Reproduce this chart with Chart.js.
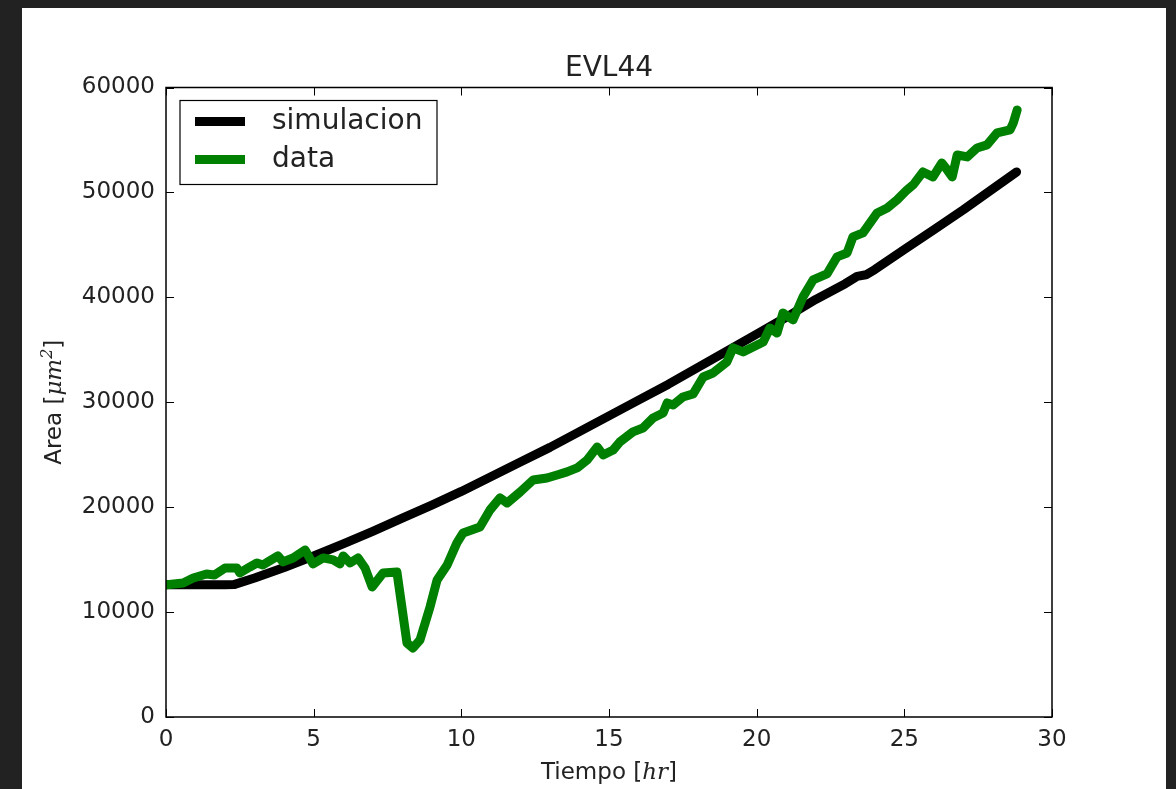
<!DOCTYPE html>
<html><head><meta charset="utf-8">
<script src="https://cdn.jsdelivr.net/npm/chart.js@4.4.0/dist/chart.umd.min.js"></script>
<style>
html,body{margin:0;padding:0;background:#222;width:1176px;height:789px;overflow:hidden}
#wrap{position:absolute;left:22px;top:8px;width:1144px;height:781px;background:#fff}
</style></head><body>
<div id="wrap"><canvas id="c"></canvas></div>
<script>
const chartTitle = 'EVL44';
const seriesNames = ['simulacion', 'data'];
const seriesColors = ['#000000', '#008000'];
const xTicks = [0, 5, 10, 15, 20, 25, 30];
const yTicks = [0, 10000, 20000, 30000, 40000, 50000, 60000];

const simHours = [0, 1, 2, 2.3, 3, 4, 5, 6, 7, 8, 9, 10, 11, 12, 13, 14, 15, 16, 17, 18, 19, 20, 21, 22, 23, 23.4, 23.7, 24, 25, 26, 27, 28, 28.8];
const simArea  = [12600, 12600, 12600, 12620, 13250, 14250, 15350, 16500, 17700, 18950, 20200, 21500, 22900, 24300, 25700, 27200, 28700, 30200, 31700, 33300, 34900, 36500, 38100, 39800, 41300, 42000, 42150, 42650, 44550, 46450, 48350, 50350, 51950];

const dataHours = [0.03, 0.58, 0.92, 1.37, 1.64, 2.0, 2.4, 2.5, 2.84, 3.08, 3.28, 3.45, 3.79, 3.96, 4.3, 4.71, 4.98, 5.32, 5.66, 5.89, 6.0, 6.23, 6.5, 6.74, 6.98, 7.35, 7.82, 8.16, 8.36, 8.6, 8.94, 9.18, 9.52, 9.85, 10.06, 10.63, 10.97, 11.31, 11.55, 11.99, 12.43, 12.9, 13.24, 13.58, 13.92, 14.26, 14.6, 14.8, 15.14, 15.37, 15.81, 16.15, 16.49, 16.83, 16.97, 17.17, 17.5, 17.85, 18.19, 18.52, 18.99, 19.2, 19.54, 19.88, 20.22, 20.45, 20.69, 20.89, 21.23, 21.57, 21.91, 22.38, 22.72, 23.06, 23.26, 23.6, 24.08, 24.42, 24.75, 25.09, 25.3, 25.63, 25.97, 26.27, 26.45, 26.62, 26.79, 27.13, 27.46, 27.8, 28.14, 28.58, 28.69, 28.82];
const dataArea  = [12600, 12770, 13250, 13630, 13540, 14200, 14200, 13730, 14300, 14680, 14490, 14780, 15350, 14780, 15160, 15920, 14590, 15160, 14970, 14590, 15350, 14680, 15160, 14200, 12390, 13730, 13820, 7050, 6580, 7340, 10490, 13060, 14490, 16590, 17540, 18110, 19730, 20880, 20400, 21450, 22590, 22780, 23070, 23360, 23740, 24500, 25740, 24980, 25450, 26220, 27170, 27550, 28500, 28980, 29930, 29740, 30500, 30800, 32410, 32790, 33840, 35180, 34800, 35270, 35750, 37080, 36600, 38510, 37850, 40040, 41660, 42230, 43850, 44230, 45760, 46140, 48040, 48520, 49280, 50240, 50720, 51950, 51480, 52810, 52150, 51480, 53570, 53380, 54240, 54530, 55670, 55960, 56630, 57860];

const FONT = 'DejaVu Sans';

const simPoints = simHours.map((h, i) => ({x: h, y: simArea[i]}));
const dataPoints = dataHours.map((h, i) => ({x: h, y: dataArea[i]}));

const decorPlugin = {
  id: 'decor',
  afterDatasetsDraw(chart) {
    const {ctx, chartArea: a, scales: {x, y}} = chart;
    ctx.save();
    ctx.strokeStyle = '#000';
    ctx.lineWidth = 1;
    xTicks.forEach(v => {
      const px = Math.round(x.getPixelForValue(v)) + 0.5;
      ctx.beginPath();
      ctx.moveTo(px, a.bottom); ctx.lineTo(px, a.bottom - 8);
      ctx.moveTo(px, a.top); ctx.lineTo(px, a.top + 8);
      ctx.stroke();
    });
    yTicks.forEach(v => {
      const py = Math.round(y.getPixelForValue(v)) + 0.5;
      ctx.beginPath();
      ctx.moveTo(a.left, py); ctx.lineTo(a.left + 8, py);
      ctx.moveTo(a.right, py); ctx.lineTo(a.right - 8, py);
      ctx.stroke();
    });
    ctx.lineWidth = 1.5;
    ctx.strokeRect(a.left, a.top, a.right - a.left, a.bottom - a.top);

    // legend
    const lx = a.left + 14, ly = a.top + 13, lw = 257, lh = 84;
    ctx.fillStyle = '#fff';
    ctx.fillRect(lx, ly, lw, lh);
    ctx.lineWidth = 1.2;
    ctx.strokeStyle = '#000';
    ctx.strokeRect(lx, ly, lw, lh);
    chart.data.datasets.forEach((ds, i) => {
      const cy = ly + 21 + i * 38;
      ctx.strokeStyle = ds.borderColor;
      ctx.lineWidth = 9;
      ctx.lineCap = 'butt';
      ctx.beginPath();
      ctx.moveTo(lx + 15, cy); ctx.lineTo(lx + 65, cy);
      ctx.stroke();
      ctx.fillStyle = '#222';
      ctx.font = '28px "' + FONT + '"';
      ctx.textBaseline = 'middle';
      ctx.textAlign = 'left';
      ctx.fillText(ds.label, lx + 92, cy);
    });
    ctx.restore();
  },
  afterDraw(chart) {
    const {ctx, chartArea: a} = chart;
    ctx.save();
    ctx.fillStyle = '#222';
    ctx.font = '28px "' + FONT + '"';
    ctx.textAlign = 'center';
    ctx.textBaseline = 'middle';
    ctx.fillText(chartTitle, (a.left + a.right) / 2, a.top - 19);

    function drawSegs(segs, cx, cy) {
      let w = 0;
      segs.forEach(s => { ctx.font = s.f; s.w = ctx.measureText(s.t).width; w += s.w; });
      let xx = cx - w / 2;
      ctx.textAlign = 'left';
      segs.forEach(s => {
        ctx.font = s.f;
        ctx.textBaseline = 'alphabetic';
        ctx.fillText(s.t, xx, cy + (s.dy || 0));
        xx += s.w;
      });
    }
    const nf = '23px "' + FONT + '"';
    const itf = 'italic 23px "DejaVu Serif"';
    const supf = 'italic 16px "DejaVu Serif"';
    drawSegs([{t: 'Tiempo [', f: nf}, {t: 'hr', f: itf}, {t: ']', f: nf}], (a.left + a.right) / 2, a.bottom + 62);
    ctx.save();
    ctx.translate(a.left - 105, (a.top + a.bottom) / 2);
    ctx.rotate(-Math.PI / 2);
    drawSegs([{t: 'Area [', f: nf}, {t: 'μm', f: itf}, {t: '2', f: supf, dy: -9}, {t: ']', f: nf}], 0, 0);
    ctx.restore();
    ctx.restore();
  }
};

new Chart(document.getElementById('c'), {
  type: 'line',
  data: {
    datasets: [
      {label: seriesNames[0], data: simPoints, borderColor: seriesColors[0], backgroundColor: seriesColors[0],
       borderWidth: 9, pointRadius: 0, tension: 0, borderJoinStyle: 'round', borderCapStyle: 'round', order: 1},
      {label: seriesNames[1], data: dataPoints, borderColor: seriesColors[1], backgroundColor: seriesColors[1],
       borderWidth: 9, pointRadius: 0, tension: 0, borderJoinStyle: 'round', borderCapStyle: 'round', order: 0}
    ]
  },
  options: {
    responsive: true,
    maintainAspectRatio: false,
    animation: false,
    layout: {padding: {top: 79.5, right: 114, left: 0, bottom: 0}},
    plugins: {legend: {display: false}, title: {display: false}, tooltip: {enabled: false}},
    scales: {
      x: {
        type: 'linear', min: 0, max: 30,
        afterFit: s => { s.height = 72; },
        afterBuildTicks: s => { s.ticks = xTicks.map(v => ({value: v})); },
        grid: {display: false, drawTicks: false},
        border: {display: false},
        ticks: {padding: 9, color: '#222', font: {family: FONT, size: 23}, maxRotation: 0, callback: v => String(v)}
      },
      y: {
        type: 'linear', min: 0, max: 60000,
        afterFit: s => { s.width = 144; },
        afterBuildTicks: s => { s.ticks = yTicks.map(v => ({value: v})); },
        grid: {display: false, drawTicks: false},
        border: {display: false},
        ticks: {padding: 11, color: '#222', font: {family: FONT, size: 23}, callback: v => String(v)}
      }
    }
  },
  plugins: [decorPlugin]
});
</script>
</body></html>
